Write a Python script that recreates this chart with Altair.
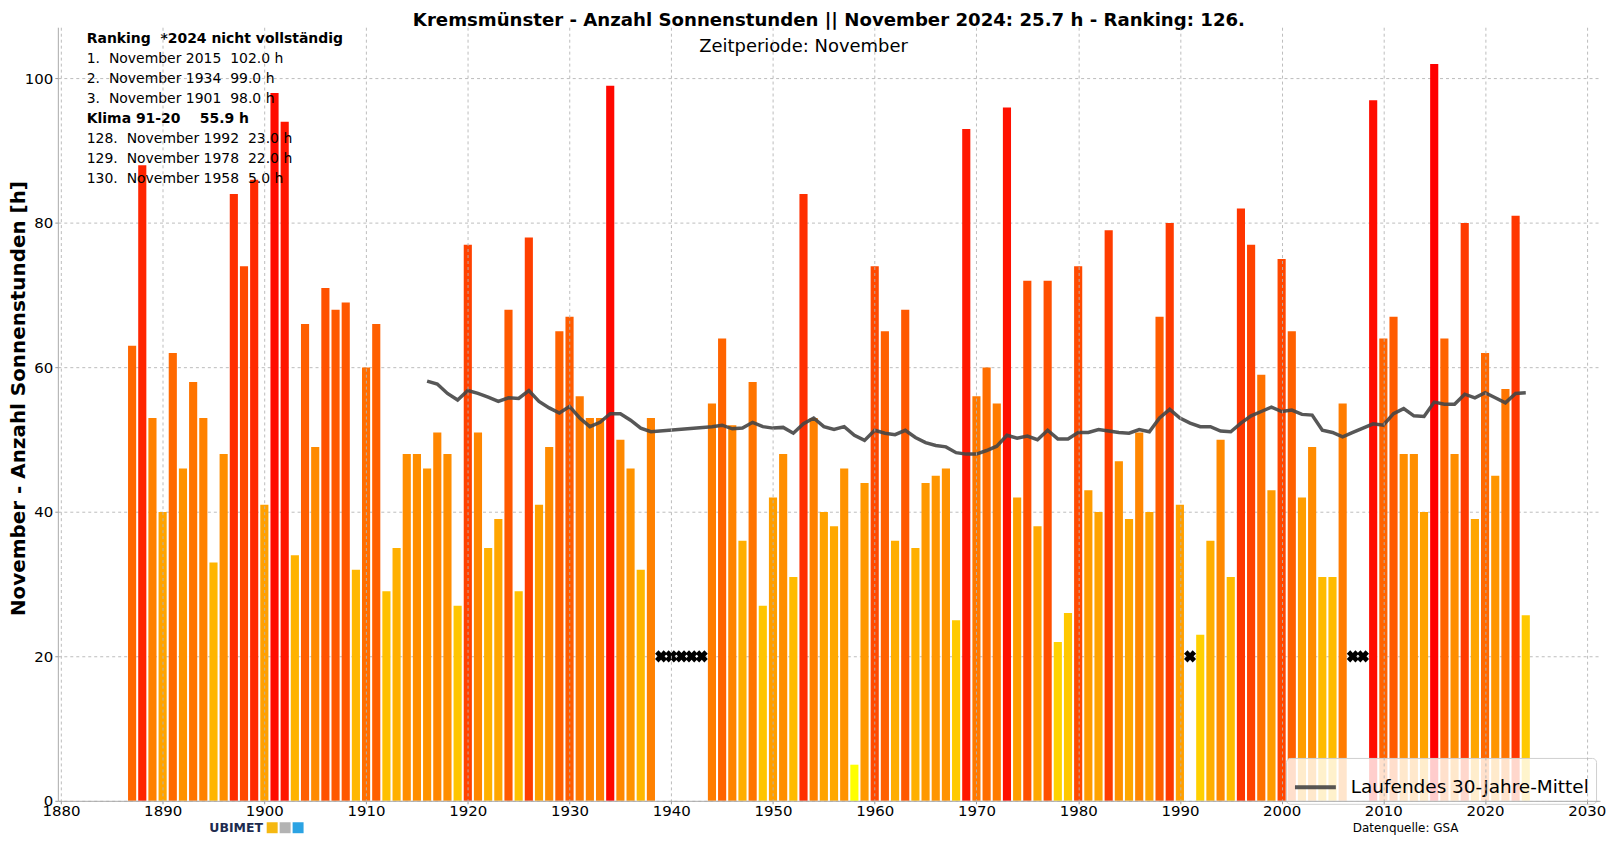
import altair as alt
import pandas as pd

# ---------------- data ----------------
years = list(range(1887, 2025))
sunshine = [
    63, 88, 53, 40, 62, 46, 58, 53, 33, 48,          # 1887-1896
    84, 74, 86, 41, 98, 94, 34, 66, 49, 71,          # 1897-1906
    68, 69, 32, 60, 66, 29, 35, 48, 48, 46,          # 1907-1916
    51, 48, 27, 77, 51, 35, 39, 68, 29, 78,          # 1917-1926
    41, 49, 65, 67, 56, 53, 53, 99, 50, 46,          # 1927-1936
    32, 53, None, None, None, None, None, 55, 64, 52,  # 1937-1946
    36, 58, 27, 42, 48, 31, 84, 53, 40, 38,          # 1947-1956
    46, 5, 44, 74, 65, 36, 68, 35, 44, 45,           # 1957-1966
    46, 25, 93, 56, 60, 55, 96, 42, 72, 38,          # 1967-1976
    72, 22, 26, 74, 43, 40, 79, 47, 39, 51,          # 1977-1986
    40, 67, 80, 41, None, 23, 36, 50, 31, 82,        # 1987-1996
    77, 59, 43, 75, 65, 42, 49, 31, 31, 55,          # 1997-2006
    None, None, 97, 64, 67, 48, 48, 40, 102, 64,     # 2007-2016
    48, 80, 39, 62, 45, 57, 81, 25.7,                # 2017-2024
]

mean_years = list(range(1916, 1939)) + list(range(1944, 2025))
mean_values = [
    58.1, 57.7, 56.4, 55.5, 56.8, 56.4, 55.9, 55.3, 55.8, 55.7,   # 1916-1925
    56.8, 55.3, 54.4, 53.7, 54.6, 53.0, 51.8, 52.4, 53.6, 53.6,   # 1926-1935
    52.7, 51.6, 51.1,                                             # 1936-1938
    51.8, 52.0, 51.5, 51.6, 52.4, 51.8,                           # 1944-1949
    51.6, 51.7, 50.9, 52.2, 53.0, 51.8, 51.4, 51.8, 50.6, 49.9,   # 1950-1959
    51.3, 50.9, 50.7, 51.3, 50.3, 49.6, 49.2, 49.0, 48.2, 48.0,   # 1960-1969
    48.0, 48.5, 49.1, 50.6, 50.2, 50.5, 50.0, 51.3, 50.1, 50.1,   # 1970-1979
    51.0, 51.0, 51.4, 51.2, 51.0, 50.9, 51.4, 51.1, 53.0, 54.2,   # 1980-1989
    53.0, 52.3, 51.8, 51.8, 51.2, 51.1, 52.3, 53.3, 53.9, 54.5,   # 1990-1999
    53.9, 54.1, 53.5, 53.4, 51.3, 51.0, 50.4, 51.0, 51.6, 52.2,   # 2000-2009
    52.0, 53.6, 54.3, 53.3, 53.2, 55.2, 54.9, 54.9, 56.3, 55.8,   # 2010-2019
    56.5, 55.8, 55.1, 56.4, 56.5,                                 # 2020-2024
]

missing_level = 20
x_ticks = list(range(1880, 2031, 10))
y_ticks = [0, 20, 40, 60, 80, 100]

NB = "\u00a0"
title_text = "Kremsmünster - Anzahl Sonnenstunden || November 2024: 25.7 h - Ranking: 126."
period_text = "Zeitperiode: November"
y_title = "November - Anzahl Sonnenstunden [h]"
legend_label = "Laufendes 30-Jahre-Mittel"
ranking_lines = [
    ("Ranking" + NB * 2 + "*2024 nicht vollständig", True),
    ("1." + NB * 2 + "November 2015" + NB * 2 + "102.0 h", False),
    ("2." + NB * 2 + "November 1934" + NB * 2 + "99.0 h", False),
    ("3." + NB * 2 + "November 1901" + NB * 2 + "98.0 h", False),
    ("Klima 91-20" + NB * 4 + "55.9 h", True),
    ("128." + NB * 2 + "November 1992" + NB * 2 + "23.0 h", False),
    ("129." + NB * 2 + "November 1978" + NB * 2 + "22.0 h", False),
    ("130." + NB * 2 + "November 1958" + NB * 2 + "5.0 h", False),
]
source_text = "Datenquelle: GSA"

# ---------------- tables ----------------
bars_df = pd.DataFrame({"year": years, "value": sunshine}).dropna()
missing_df = pd.DataFrame({
    "year": [y for y, v in zip(years, sunshine) if v is None],
})
missing_df["value"] = missing_level
mean_df = pd.DataFrame({"year": mean_years, "mean": mean_values, "series": legend_label})

vmin, vmax = bars_df["value"].min(), bars_df["value"].max()

W, H = 1547, 776
FONT = "DejaVu Sans"

xscale = alt.Scale(domain=[1879.7, 2031.3], nice=False, zero=False)
yscale = alt.Scale(domain=[0, 107.1], nice=False)

x_axis = alt.Axis(values=x_ticks, format="d", title=None, grid=True, gridDash=[3, 3],
                  gridColor="#b5b5b5", gridWidth=0.9, labelFontSize=15, labelColor="#000",
                  tickSize=3, tickColor="#999", labelPadding=0, domainColor="#aaaaaa",
                  zindex=1, labelFont=FONT)
y_axis = alt.Axis(values=y_ticks, title=y_title, grid=True, gridDash=[3, 3],
                  gridColor="#b5b5b5", gridWidth=0.9, labelFontSize=15, labelColor="#000",
                  tickSize=3, tickColor="#999", labelPadding=2, domainColor="#aaaaaa",
                  titleFontSize=20, titleFontWeight="bold", titleColor="#000",
                  titleX=-33, titleY=372, titleAngle=270, titleAlign="center",
                  titleBaseline="alphabetic", labelFont=FONT, titleFont=FONT, zindex=0)

bars = alt.Chart(bars_df).transform_calculate(
    x0="datum.year - 0.4", x1="datum.year + 0.4"
).mark_bar().encode(
    x=alt.X("x0:Q", scale=xscale, axis=x_axis),
    x2="x1:Q",
    y=alt.Y("value:Q", scale=yscale, axis=y_axis),
    y2=alt.datum(0),
    fill=alt.Fill("value:Q", scale=alt.Scale(domain=[vmin, vmax], range=["#ffff00", "#ff0000"],
                                             interpolate="rgb"), legend=None),
)

missing = alt.Chart(missing_df).mark_point(shape="cross", angle=45, filled=True,
                                           color="#000", size=150, opacity=1).encode(
    x=alt.X("year:Q", scale=xscale),
    y=alt.Y("value:Q", scale=yscale),
)

line = alt.Chart(mean_df).mark_line(strokeWidth=3.5, strokeOpacity=0.9).encode(
    x=alt.X("year:Q", scale=xscale),
    y=alt.Y("mean:Q", scale=yscale),
    stroke=alt.Stroke("series:N", scale=alt.Scale(range=["#454545"]),
                      legend=alt.Legend(title=None, orient="none", legendX=1232, legendY=733,
                                        fillColor="rgba(255,255,255,0.8)", strokeColor="#d0d0d0",
                                        cornerRadius=4, padding=7, labelFontSize=18.5,
                                        labelFont=FONT, labelColor="#000", labelLimit=0,
                                        symbolType="stroke", symbolSize=1681,
                                        symbolStrokeWidth=4, labelOffset=13,
                                        symbolOpacity=0.9)),
)

one = mean_df.head(1)
texts = []
for i, (txt, bold) in enumerate(ranking_lines):
    texts.append(alt.Chart(one).mark_text(
        align="left", baseline="middle", fontSize=14, font=FONT,
        fontWeight="bold" if bold else "normal", color="#000").encode(
        text=alt.value(txt), x=alt.value(29), y=alt.value(12 + 20 * i)))

texts.append(alt.Chart(one).mark_text(
    align="center", baseline="alphabetic", fontSize=18.2, font=FONT, fontWeight="bold",
    color="#000").encode(
    text=alt.value(title_text), x=alt.value(W / 2), y=alt.value(-1)))

texts.append(alt.Chart(one).mark_text(
    align="center", baseline="middle", fontSize=18, font=FONT, color="#000").encode(
    text=alt.value(period_text), x=alt.value(748), y=alt.value(20)))

texts.append(alt.Chart(one).mark_text(
    align="center", baseline="middle", fontSize=12, font=FONT, color="#000").encode(
    text=alt.value(source_text), x=alt.value(1352), y=alt.value(803)))

texts.append(alt.Chart(one).mark_text(
    align="left", baseline="middle", fontSize=12.5, font=FONT, fontWeight="bold",
    color="#1d2b4f").encode(
    text=alt.value("UBIMET"), x=alt.value(152), y=alt.value(803)))

for cx, col in zip([215, 228, 241], ["#f5b812", "#b3b3b3", "#2ba3e3"]):
    texts.append(alt.Chart(one).mark_square(size=121, filled=True, opacity=1,
                                            color=col).encode(
        x=alt.value(cx), y=alt.value(803)))

chart = alt.layer(bars, missing, line, *texts).resolve_scale(
    fill="independent"
).properties(
    width=W, height=H,
    autosize=alt.AutoSizeParams(type="none"),
    padding={"left": 50, "top": 18, "right": 8, "bottom": 33},
).configure(font=FONT).configure_view(stroke=None)

chart.save("out.html", embed_options={"renderer": "svg", "actions": False})
